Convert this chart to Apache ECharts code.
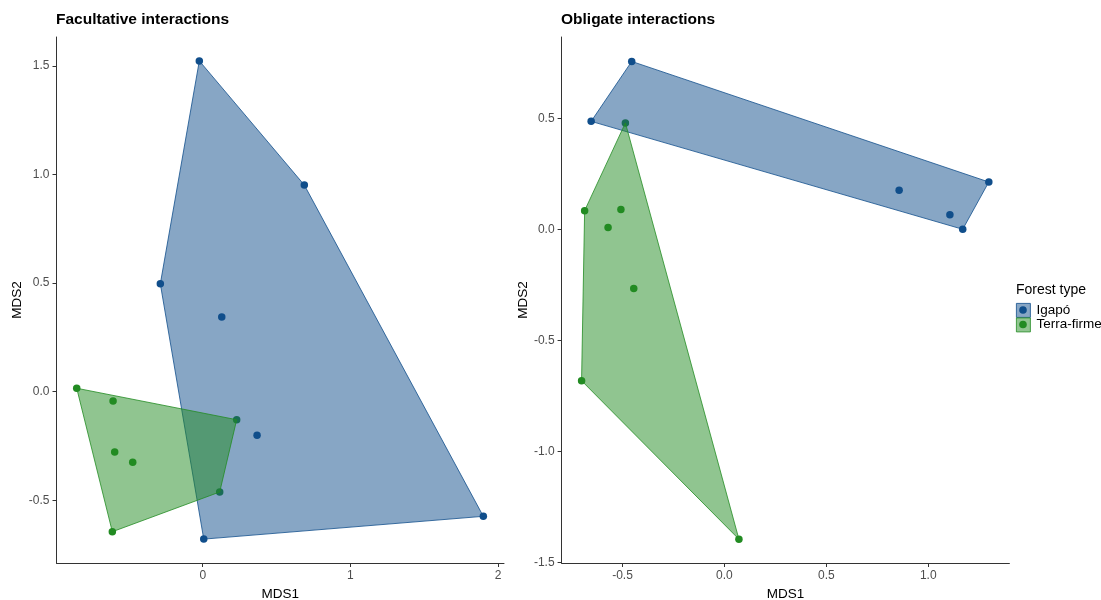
<!DOCTYPE html>
<html>
<head>
<meta charset="utf-8">
<script src="https://cdn.jsdelivr.net/npm/echarts@6/dist/echarts.min.js"></script>
<style>html,body{margin:0;padding:0;background:#fff}#c{width:1101px;height:600px}</style>
</head>
<body>
<div id="c"></div>
<script>
// ---- data ----
const groups = ['Igapó', 'Terra-firme'];
// Facultative interactions
const facIgapoX = [-0.023, 0.688, -0.287, 0.129, 0.368, 1.900, 0.007];
const facIgapoY = [1.524, 0.952, 0.497, 0.344, -0.200, -0.574, -0.679];
const facTerraX = [-0.853, -0.607, 0.230, -0.596, -0.474, 0.115, -0.612];
const facTerraY = [0.016, -0.043, -0.129, -0.278, -0.325, -0.462, -0.645];
// Obligate interactions
const oblIgapoX = [-0.455, -0.654, 0.857, 1.297, 1.106, 1.169];
const oblIgapoY = [0.757, 0.487, 0.177, 0.214, 0.067, 0.001];
const oblTerraX = [-0.486, -0.686, -0.508, -0.571, -0.445, -0.701, 0.071];
const oblTerraY = [0.480, 0.085, 0.090, 0.009, -0.266, -0.681, -1.395];
// tick labels
const facXTicks = [0, 1, 2];
const facYTicks = [-0.5, 0.0, 0.5, 1.0, 1.5];
const oblXTicks = [-0.5, 0.0, 0.5, 1.0];
const oblYTicks = [-1.5, -1.0, -0.5, 0.0, 0.5];

const colors = {'Igapó': '#104E8B', 'Terra-firme': '#228B22'};
const fills = {'Igapó': 'rgba(16,78,139,0.5)', 'Terra-firme': 'rgba(34,139,34,0.5)'};
const FONT = 'Liberation Sans, Arial, sans-serif';

function zip(xs, ys) { return xs.map((x, i) => [x, ys[i]]); }
function hull(pts) {
  const p = pts.slice().sort((a, b) => a[0] - b[0] || a[1] - b[1]);
  const cross = (o, a, b) => (a[0]-o[0])*(b[1]-o[1]) - (a[1]-o[1])*(b[0]-o[0]);
  const lower = [], upper = [];
  for (const q of p) { while (lower.length >= 2 && cross(lower[lower.length-2], lower[lower.length-1], q) <= 0) lower.pop(); lower.push(q); }
  for (let i = p.length - 1; i >= 0; i--) { const q = p[i]; while (upper.length >= 2 && cross(upper[upper.length-2], upper[upper.length-1], q) <= 0) upper.pop(); upper.push(q); }
  upper.pop(); lower.pop();
  return lower.concat(upper);
}

const panels = [
  {data: {'Igapó': zip(facIgapoX, facIgapoY), 'Terra-firme': zip(facTerraX, facTerraY)}},
  {data: {'Igapó': zip(oblIgapoX, oblIgapoY), 'Terra-firme': zip(oblTerraX, oblTerraY)}}
];

const series = [];
panels.forEach((pn, gi) => {
  groups.forEach(g => {
    series.push({
      type: 'scatter', name: g, xAxisIndex: gi, yAxisIndex: gi,
      data: pn.data[g], symbol: 'circle', symbolSize: 7.5,
      itemStyle: {color: colors[g], opacity: 1}, z: 2, silent: true
    });
  });
  groups.forEach((g, k) => {
    const h = hull(pn.data[g]);
    series.push({
      type: 'custom', name: g + ' hull', xAxisIndex: gi, yAxisIndex: gi,
      data: h, encode: {x: 0, y: 1}, z: 3 + k, silent: true,
      renderItem: function (params, api) {
        if (params.dataIndex !== 0) return null;
        const pts = h.map(p => api.coord(p));
        return {type: 'polygon', shape: {points: pts},
          style: {fill: fills[g], stroke: colors[g], lineWidth: 0.8}};
      }
    });
  });
});

function xAxis(gi, min, max, ticks, fmt) {
  return {type: 'value', gridIndex: gi, min: min, max: max,
    name: 'MDS1', nameLocation: 'middle', nameGap: 23,
    nameTextStyle: {fontFamily: FONT, fontSize: 13.5, color: '#000'},
    splitLine: {show: false},
    axisLine: {show: true, onZero: false, lineStyle: {color: '#333', width: 1}},
    axisTick: {show: true, length: 4, customValues: ticks, lineStyle: {color: '#333'}},
    axisLabel: {customValues: ticks, margin: 7, fontFamily: FONT, fontSize: 12, color: '#4D4D4D', formatter: fmt}};
}
function yAxis(gi, min, max, ticks, gap) {
  return {type: 'value', gridIndex: gi, min: min, max: max,
    name: 'MDS2', nameLocation: 'middle', nameGap: gap,
    nameTextStyle: {fontFamily: FONT, fontSize: 13.5, color: '#000'},
    splitLine: {show: false},
    axisLine: {show: true, onZero: false, lineStyle: {color: '#333', width: 1}},
    axisTick: {show: true, length: 4, customValues: ticks, lineStyle: {color: '#333'}},
    axisLabel: {customValues: ticks, margin: 7, fontFamily: FONT, fontSize: 12, color: '#4D4D4D', formatter: v => v.toFixed(1)}};
}

const chart = echarts.init(document.getElementById('c'), null, {renderer: 'canvas'});
chart.setOption({
  animation: false,
  backgroundColor: '#fff',
  title: [
    {text: 'Facultative interactions', left: 56, top: 12, padding: 0,
      textStyle: {fontFamily: FONT, fontSize: 15.5, fontWeight: 'bold', color: '#000'}},
    {text: 'Obligate interactions', left: 561, top: 12, padding: 0,
      textStyle: {fontFamily: FONT, fontSize: 15.5, fontWeight: 'bold', color: '#000'}}
  ],
  grid: [
    {left: 56.5, top: 37, width: 447.5, height: 526, outerBoundsMode: 'none', containLabel: false},
    {left: 561.6, top: 37, width: 447.8, height: 526, outerBoundsMode: 'none', containLabel: false}
  ],
  xAxis: [
    xAxis(0, -0.99, 2.04, facXTicks, v => String(Math.round(v))),
    xAxis(1, -0.799, 1.398, oblXTicks, v => v.toFixed(1))
  ],
  yAxis: [
    yAxis(0, -0.789, 1.634, facYTicks, 32),
    yAxis(1, -1.502, 0.867, oblYTicks, 31)
  ],
  series: series,
  graphic: [
    {type: 'text', left: 1016, top: 283, style: {text: 'Forest type', font: '14px ' + FONT, fill: '#000'}},
    {type: 'rect', left: 1016, top: 303, shape: {width: 14, height: 14}, style: {fill: fills['Igapó'], stroke: colors['Igapó'], lineWidth: 0.8}},
    {type: 'circle', shape: {cx: 1023, cy: 310, r: 3.8}, style: {fill: colors['Igapó']}},
    {type: 'rect', left: 1016, top: 317.5, shape: {width: 14, height: 14}, style: {fill: fills['Terra-firme'], stroke: colors['Terra-firme'], lineWidth: 0.8}},
    {type: 'circle', shape: {cx: 1023, cy: 324.5, r: 3.8}, style: {fill: colors['Terra-firme']}},
    {type: 'text', left: 1036.5, top: 303, style: {text: 'Igapó', font: '13.5px ' + FONT, fill: '#000'}},
    {type: 'text', left: 1036.5, top: 317.5, style: {text: 'Terra-firme', font: '13.5px ' + FONT, fill: '#000'}}
  ]
});
</script>
</body>
</html>
